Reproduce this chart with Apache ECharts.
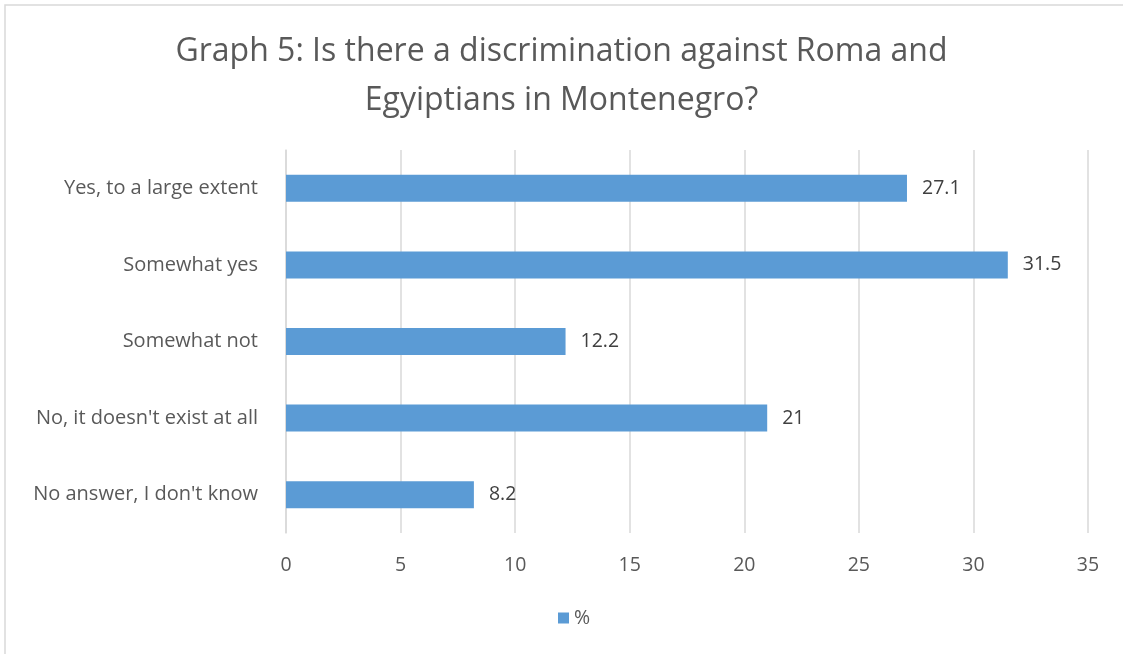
<!DOCTYPE html>
<html>
<head>
<meta charset="utf-8">
<script src="https://cdn.jsdelivr.net/npm/echarts@6/dist/echarts.min.js"></script>
<style>
  html, body { margin: 0; padding: 0; background: #ffffff; }
  #chart { width: 1123px; height: 654px; }
</style>
</head>
<body>
<div id="chart"></div>
<script>
// Survey answers, listed top to bottom
const categories = [
  "Yes, to a large extent",
  "Somewhat yes",
  "Somewhat not",
  "No, it doesn't exist at all",
  "No answer, I don't know"
];
const percentValues = [27.1, 31.5, 12.2, 21, 8.2];
const seriesName = "%";
const titleText = "Graph 5: Is there a discrimination against Roma and\nEgyiptians in Montenegro?";

const FONT = "'Open Sans', 'Noto Sans', sans-serif";
const chart = echarts.init(document.getElementById("chart"), null, { renderer: "canvas" });

chart.setOption({
  animation: false,
  backgroundColor: "#ffffff",
  graphic: [{
    type: "rect",
    shape: { x: 5, y: 5, width: 1140, height: 700 },
    style: { fill: "none", stroke: "#d9d9d9", lineWidth: 1.5 },
    silent: true
  }],
  title: {
    text: titleText,
    left: "center",
    top: 22,
    textStyle: {
      fontFamily: FONT,
      fontSize: 32,
      fontWeight: "normal",
      color: "#595959",
      lineHeight: 49
    }
  },
  grid: { left: 286, right: 35, top: 150, bottom: 121, containLabel: false },
  xAxis: {
    type: "value",
    min: 0,
    max: 35,
    interval: 5,
    axisLine: { show: false },
    axisTick: { show: false },
    splitLine: { show: true, lineStyle: { color: "#d9d9d9", width: 1.5 } },
    axisLabel: { fontFamily: FONT, fontSize: 19.5, color: "#595959", margin: 22 }
  },
  yAxis: {
    type: "category",
    data: categories,
    inverse: true,
    axisLine: { show: true, lineStyle: { color: "#d9d9d9", width: 1.5 } },
    axisTick: { show: false },
    axisLabel: { fontFamily: FONT, fontSize: 20, color: "#595959", margin: 28 }
  },
  legend: {
    bottom: 21,
    left: 553,
    itemWidth: 11,
    itemHeight: 11,
    itemGap: 6,
    icon: "rect",
    textStyle: { fontFamily: FONT, fontSize: 19.5, color: "#595959", padding: [0, 0, 0, 0] },
    data: [seriesName]
  },
  series: [{
    name: seriesName,
    type: "bar",
    data: percentValues,
    barWidth: 27,
    itemStyle: { color: "#5b9bd5" },
    label: {
      show: true,
      position: "right",
      distance: 15,
      fontFamily: FONT,
      fontSize: 19.5,
      color: "#404040"
    }
  }]
});
</script>
</body>
</html>
